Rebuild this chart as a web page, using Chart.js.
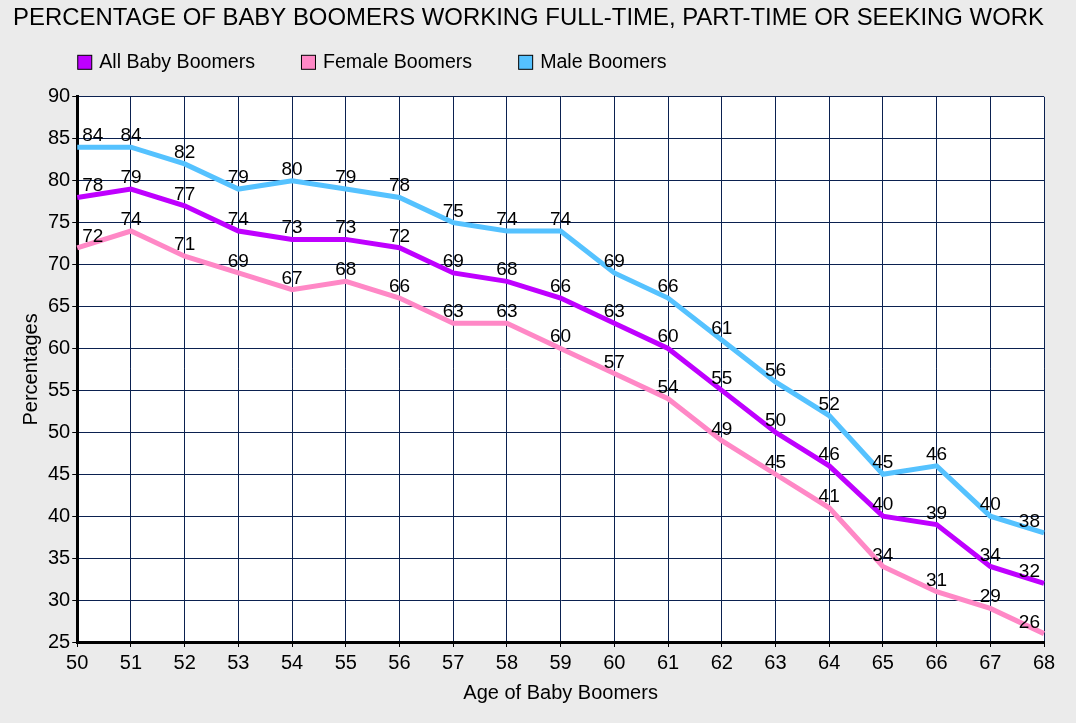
<!DOCTYPE html>
<html><head><meta charset="utf-8">
<script src="https://cdn.jsdelivr.net/npm/chart.js@4"></script>
<style>html,body{margin:0;padding:0;background:#EBEBEB;}#wrap{width:1076px;height:723px;}</style>
</head><body><div id="wrap"><canvas id="c" width="1076" height="723"></canvas></div>
<script>
const ages = ['50','51','52','53','54','55','56','57','58','59','60','61','62','63','64','65','66','67','68'];
const allBoomers = [78,79,77,74,73,73,72,69,68,66,63,60,55,50,46,40,39,34,32];
const femaleBoomers = [72,74,71,69,67,68,66,63,63,60,57,54,49,45,41,34,31,29,26];
const maleBoomers = [84,84,82,79,80,79,78,75,74,74,69,66,61,56,52,45,46,40,38];
const yTicks = [25,30,35,40,45,50,55,60,65,70,75,80,85,90];

const FONT = '"Liberation Sans", Arial, sans-serif';

const bgPlugin = {
  id: 'bg',
  beforeDraw(chart) {
    const {ctx, chartArea: a} = chart;
    ctx.save();
    ctx.fillStyle = '#EBEBEB';
    ctx.fillRect(0, 0, chart.width, chart.height);
    ctx.fillStyle = '#FFFFFF';
    ctx.fillRect(a.left, a.top, a.right - a.left, a.bottom - a.top);
    ctx.restore();
  }
};

const legendPlugin = {
  id: 'customLegend',
  afterDraw(chart) {
    const ctx = chart.ctx;
    const a = chart.chartArea;
    ctx.save();
    ctx.font = '19.6px ' + FONT;
    ctx.textBaseline = 'middle';
    ctx.textAlign = 'left';
    let x = a.left;
    const cy = a.top - 35;
    chart.data.datasets.forEach(ds => {
      ctx.fillStyle = ds.borderColor;
      ctx.fillRect(x + 0.5, cy - 7 + 0.5, 14, 14);
      ctx.strokeStyle = '#000';
      ctx.lineWidth = 1;
      ctx.strokeRect(x + 0.5, cy - 7 + 0.5, 14, 14);
      ctx.fillStyle = '#000';
      ctx.fillText(ds.label, x + 22, cy + 1);
      x += 22 + ctx.measureText(ds.label).width + 46;
    });
    ctx.restore();
  }
};

const labelPlugin = {
  id: 'vals',
  afterDatasetsDraw(chart) {
    const ctx = chart.ctx;
    const a = chart.chartArea;
    ctx.save();
    ctx.font = '19px ' + FONT;
    ctx.fillStyle = '#000';
    ctx.textAlign = 'center';
    ctx.textBaseline = 'alphabetic';
    chart.data.datasets.forEach((ds, i) => {
      const meta = chart.getDatasetMeta(i);
      meta.data.forEach((pt, j) => {
        const txt = String(ds.data[j]);
        const w = ctx.measureText(txt).width;
        let x = pt.x;
        if (x - w / 2 < a.left + 5) x = a.left + 5 + w / 2;
        if (x + w / 2 > a.right - 4) x = a.right - 4 - w / 2;
        ctx.fillText(txt, x, pt.y - 6);
      });
    });
    ctx.restore();
  }
};

new Chart(document.getElementById('c'), {
  type: 'line',
  data: {
    labels: ages,
    datasets: [
      {label: 'All Baby Boomers', data: allBoomers, borderColor: '#BF00FF', backgroundColor: '#BF00FF'},
      {label: 'Female Boomers', data: femaleBoomers, borderColor: '#FF88C6', backgroundColor: '#FF88C6'},
      {label: 'Male Boomers', data: maleBoomers, borderColor: '#55C2FF', backgroundColor: '#55C2FF'}
    ]
  },
  options: {
    responsive: false,
    animation: false,
    devicePixelRatio: 1,
    layout: {padding: {left: 13, right: 32, top: 0, bottom: 14}},
    elements: {
      line: {borderWidth: 5, tension: 0, borderJoinStyle: 'miter'},
      point: {radius: 0, hoverRadius: 0}
    },
    plugins: {
      title: {
        display: true,
        text: 'PERCENTAGE OF BABY BOOMERS WORKING FULL-TIME, PART-TIME OR SEEKING WORK',
        align: 'start',
        color: '#000',
        font: {family: FONT, size: 24, weight: 'normal'},
        padding: {top: 4, bottom: 64}
      },
      legend: {display: false},
      tooltip: {enabled: false}
    },
    scales: {
      x: {
        offset: false,
        title: {display: true, text: 'Age of Baby Boomers', color: '#000', font: {family: FONT, size: 20}, padding: {top: 2, bottom: 4}},
        ticks: {color: '#000', font: {family: FONT, size: 20}, maxRotation: 0, autoSkip: false, padding: 4},
        grid: {color: '#0B2150', lineWidth: 1, drawTicks: true, tickLength: 5, tickColor: '#000'},
        border: {color: '#000', width: 3}
      },
      y: {
        min: 25, max: 90,
        afterBuildTicks(scale) { scale.ticks = yTicks.map(v => ({value: v})); },
        title: {display: true, text: 'Percentages', color: '#000', font: {family: FONT, size: 20}, padding: {top: 6, bottom: 3}},
        ticks: {color: '#000', font: {family: FONT, size: 20}, padding: 2},
        grid: {color: '#0B2150', lineWidth: 1, drawTicks: true, tickLength: 5, tickColor: '#000'},
        border: {color: '#000', width: 3}
      }
    }
  },
  plugins: [bgPlugin, labelPlugin, legendPlugin]
});
</script></body></html>
